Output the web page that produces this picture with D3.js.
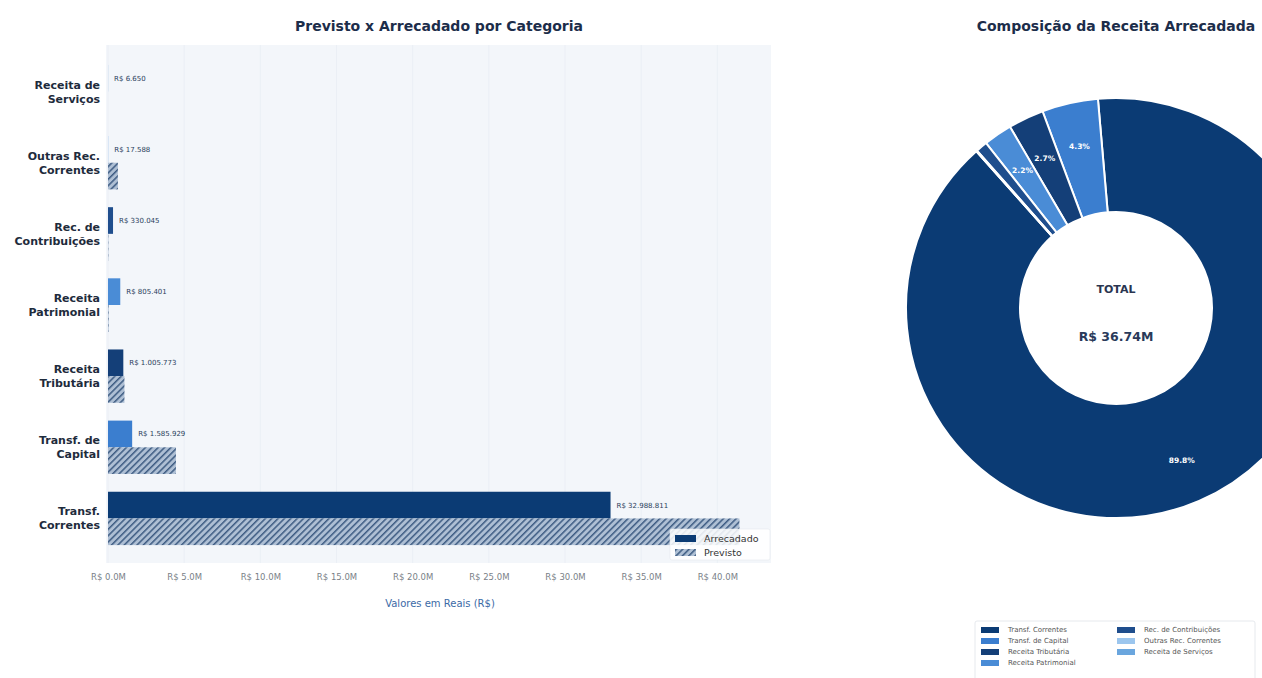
<!DOCTYPE html>
<html>
<head>
<meta charset="utf-8">
<script src="https://cdn.jsdelivr.net/npm/d3@7"></script>
<style>
  html, body { margin: 0; padding: 0; background: #ffffff; }
  svg { display: block; font-family: "DejaVu Sans", sans-serif; }
</style>
</head>
<body>
<svg id="chart" width="1262" height="678"></svg>
<script>
// ---------------- DATA ----------------
const categories = ["Transf. Correntes", "Transf. de Capital", "Receita Tributária", "Receita Patrimonial",
                    "Rec. de Contribuições", "Outras Rec. Correntes", "Receita de Serviços"];
const categoryLines = [["Transf.", "Correntes"], ["Transf. de", "Capital"], ["Receita", "Tributária"],
                       ["Receita", "Patrimonial"], ["Rec. de", "Contribuições"], ["Outras Rec.", "Correntes"],
                       ["Receita de", "Serviços"]];
const arrecadado = [32988811, 1585929, 1005773, 805401, 330045, 17588, 6650];
const previsto   = [41450000, 4460000, 1080000, 40000, 25000, 650000, 0];
const colors = ["#0b3b74", "#3b7ecf", "#143f78", "#4a8cd6", "#1f4e8d", "#9cc6ee", "#6aa6de"];
const xTicks = [0, 5e6, 10e6, 15e6, 20e6, 25e6, 30e6, 35e6, 40e6];
const seriesNames = ["Arrecadado", "Previsto"];

const svg = d3.select("#chart");
const fmtBR = v => "R$ " + Math.round(v).toString().replace(/\B(?=(\d{3})+(?!\d))/g, ".");

// hatch pattern
const defs = svg.append("defs");
const pat = defs.append("pattern").attr("id", "hatch").attr("patternUnits", "userSpaceOnUse")
  .attr("width", 4.5).attr("height", 4.5).attr("patternTransform", "rotate(45)");
pat.append("rect").attr("width", 4.5).attr("height", 4.5).attr("fill", "#aebfd4");
pat.append("line").attr("x1", 0).attr("y1", 0).attr("x2", 0).attr("y2", 4.5)
  .attr("stroke", "#3d5b82").attr("stroke-width", 3);

// ---------------- BAR CHART ----------------
const plot = { left: 106, right: 771, top: 45, bottom: 563 };
const x = d3.scaleLinear().domain([0, d3.max(previsto) * 1.05]).range([108, plot.right]);
const yOrder = categories.slice().reverse();
const y = d3.scaleBand().domain(yOrder).range([56, 554]).padding(0);
const bh = y.bandwidth() * 0.375;

svg.append("rect").attr("x", plot.left).attr("y", plot.top)
  .attr("width", plot.right - plot.left).attr("height", plot.bottom - plot.top).attr("fill", "#f3f6fa");

svg.append("g").selectAll("line").data(xTicks).join("line")
  .attr("x1", d => x(d)).attr("x2", d => x(d)).attr("y1", plot.top).attr("y2", plot.bottom)
  .attr("stroke", "#e8edf4").attr("stroke-width", 0.8);

svg.append("text").attr("x", 439).attr("y", 31).attr("text-anchor", "middle")
  .attr("font-size", 14).attr("font-weight", "bold").attr("fill", "#1c2d4a")
  .text("Previsto x Arrecadado por Categoria");

const bars = svg.append("g");
categories.forEach((c, i) => {
  const yc = y(c) + y.bandwidth() / 2;
  // arrecadado
  bars.append("rect").attr("x", x(0)).attr("y", yc - bh)
    .attr("width", Math.max(0, x(arrecadado[i]) - x(0))).attr("height", bh)
    .attr("fill", colors[i]);
  // previsto
  if (previsto[i] > 0) {
    bars.append("rect").attr("x", x(0)).attr("y", yc)
      .attr("width", Math.max(0, x(previsto[i]) - x(0))).attr("height", bh)
      .attr("fill", "url(#hatch)");
  }
  // value label
  bars.append("text").attr("x", x(arrecadado[i]) + 6).attr("y", yc - bh / 2)
    .attr("dy", "0.35em").attr("font-size", 7).attr("fill", "#2b3f5c")
    .text(fmtBR(arrecadado[i]));
  // category label
  const t = svg.append("text").attr("text-anchor", "end").attr("font-size", 11)
    .attr("font-weight", "bold").attr("fill", "#1e2b3c");
  categoryLines[i].forEach((ln, k) => {
    t.append("tspan").attr("x", 100).attr("y", yc - 7 + k * 14 + 4).text(ln);
  });
});

// x axis
const xAxis = d3.axisBottom(x).tickValues(xTicks).tickSize(0)
  .tickFormat(d => "R$ " + (d / 1e6).toFixed(1) + "M");
const gx = svg.append("g").attr("transform", `translate(0,${plot.bottom + 8})`).call(xAxis);
gx.select(".domain").remove();
gx.selectAll("text").attr("font-size", 8.5).attr("fill", "#7a7f88").attr("font-family", "DejaVu Sans");

svg.append("text").attr("x", 440).attr("y", 607).attr("text-anchor", "middle")
  .attr("font-size", 10).attr("fill", "#3b6aa6").text("Valores em Reais (R$)");

// bar legend
const lg = svg.append("g").attr("transform", "translate(670,529)");
lg.append("rect").attr("width", 100).attr("height", 31).attr("fill", "#ffffff").attr("fill-opacity", 0.85)
  .attr("stroke", "#e6e9ee").attr("stroke-width", 0.6).attr("rx", 2);
seriesNames.forEach((s, k) => {
  lg.append("rect").attr("x", 5).attr("y", 6 + k * 14).attr("width", 21).attr("height", 7)
    .attr("fill", k === 0 ? colors[0] : "url(#hatch)");
  lg.append("text").attr("x", 34).attr("y", 9.5 + k * 14).attr("dy", "0.35em")
    .attr("font-size", 9.5).attr("fill", "#333").text(s);
});

// ---------------- DONUT ----------------
const cx = 1116, cy = 308, rOuter = 210, rInner = 96;
const total = d3.sum(arrecadado);
const startA = -41.7 * Math.PI / 180;
const pie = d3.pie().sort(null).value(d => d).startAngle(startA).endAngle(startA - 2 * Math.PI);
const arcs = pie(arrecadado);
const arc = d3.arc().innerRadius(rInner).outerRadius(rOuter);
const labelArc = d3.arc().innerRadius(166).outerRadius(166);

const gp = svg.append("g").attr("transform", `translate(${cx},${cy})`);
gp.selectAll("path").data(arcs).join("path")
  .attr("d", arc).attr("fill", (d, i) => colors[i])
  .attr("stroke", "#ffffff").attr("stroke-width", 2);

gp.selectAll("text.pct").data(arcs.filter(d => d.value / total >= 0.02)).join("text")
  .attr("class", "pct")
  .attr("transform", d => `translate(${labelArc.centroid(d)})`)
  .attr("text-anchor", "middle").attr("dy", "0.35em")
  .attr("font-size", 7.5).attr("font-weight", "bold").attr("fill", "#ffffff")
  .text(d => (d.value / total * 100).toFixed(1) + "%");

gp.append("text").attr("y", -19).attr("text-anchor", "middle").attr("dy", "0.35em")
  .attr("font-size", 11).attr("font-weight", "bold").attr("fill", "#2a3550").text("TOTAL");
gp.append("text").attr("y", 29).attr("text-anchor", "middle").attr("dy", "0.35em")
  .attr("font-size", 12.5).attr("font-weight", "bold").attr("fill", "#2a3a5a")
  .text("R$ " + (total / 1e6).toFixed(2) + "M");

svg.append("text").attr("x", 1116).attr("y", 31).attr("text-anchor", "middle")
  .attr("font-size", 14).attr("font-weight", "bold").attr("fill", "#1c2d4a")
  .text("Composição da Receita Arrecadada");

// pie legend
const pl = svg.append("g").attr("transform", "translate(975,621)");
pl.append("rect").attr("width", 280).attr("height", 60).attr("fill", "#ffffff")
  .attr("stroke", "#dfe3e8").attr("stroke-width", 0.8).attr("rx", 2);
categories.forEach((c, i) => {
  const col = i < 4 ? 0 : 1;
  const row = i < 4 ? i : i - 4;
  const gx0 = col === 0 ? 6 : 142;
  const gy0 = 9 + row * 11;
  pl.append("rect").attr("x", gx0).attr("y", gy0 - 3).attr("width", 18).attr("height", 6).attr("fill", colors[i]);
  pl.append("text").attr("x", gx0 + 27).attr("y", gy0).attr("dy", "0.35em")
    .attr("font-size", 7).attr("fill", "#555").text(c);
});
</script>
</body>
</html>
